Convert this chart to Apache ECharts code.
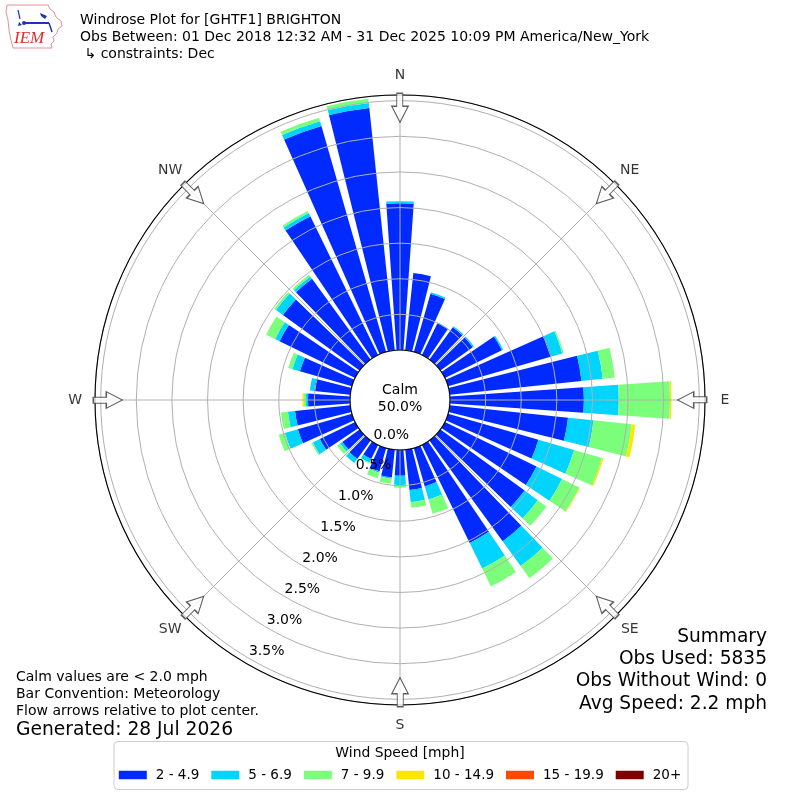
<!DOCTYPE html>
<html style="height: 100%">
<head>
  <meta charset="utf-8">
</head>
<body style="height: 100%; margin: 0; background: #fff">
  <div id="container" style="width: 800px; height: 800px"></div>

  <script type="text/javascript" src="https://fastly.jsdelivr.net/npm/echarts@6/dist/echarts.min.js"></script>
  <script type="text/javascript">
    // direction bins (degrees, meteorological convention)
    var directions = ['0', '10', '20', '30', '40', '50', '60', '70', '80', '90', '100', '110',
      '120', '130', '140', '150', '160', '170', '180', '190', '200', '210', '220', '230',
      '240', '250', '260', '270', '280', '290', '300', '310', '320', '330', '340', '350'];

    var speedBins = ['2 - 4.9', '5 - 6.9', '7 - 9.9', '10 - 14.9', '15 - 19.9', '20+'];

    // percent of observations per direction, one array per speed bin
    var speed2to5 = [2.06, 1.09, 0.85, 0.50, 0.56, 0.56, 0.89, 1.51, 1.86, 1.88, 1.67, 1.32,
      1.43, 1.46, 1.75, 1.53, 0.56, 0.57, 0.36, 0.39, 0.34, 0.22, 0.32, 0.30,
      0.55, 0.79, 0.78, 0.59, 0.51, 0.76, 1.18, 1.33, 1.40, 2.17, 3.30, 3.42];
    var speed5to7 = [0.03, 0.00, 0.02, 0.01, 0.02, 0.02, 0.02, 0.16, 0.30, 0.49, 0.36, 0.52,
      0.40, 0.23, 0.43, 0.40, 0.19, 0.17, 0.13, 0.02, 0.02, 0.06, 0.07, 0.04,
      0.11, 0.19, 0.10, 0.03, 0.06, 0.11, 0.07, 0.12, 0.04, 0.05, 0.07, 0.07];
    var speed7to10 = [0.00, 0.00, 0.00, 0.00, 0.00, 0.00, 0.00, 0.02, 0.17, 0.72, 0.54, 0.41,
      0.27, 0.15, 0.21, 0.28, 0.21, 0.08, 0.04, 0.07, 0.08, 0.01, 0.00, 0.05,
      0.02, 0.09, 0.10, 0.03, 0.00, 0.06, 0.14, 0.03, 0.03, 0.03, 0.05, 0.06];
    var speed10to15 = [0, 0, 0, 0, 0, 0, 0, 0, 0, 0.02, 0.05, 0.02,
      0.01, 0, 0, 0, 0, 0, 0, 0, 0, 0, 0, 0,
      0, 0, 0, 0.02, 0, 0, 0, 0, 0, 0, 0, 0];
    var speed15to20 = [0, 0, 0, 0, 0, 0, 0, 0, 0, 0, 0, 0,
      0, 0, 0, 0, 0, 0, 0, 0, 0, 0, 0, 0,
      0, 0, 0, 0, 0, 0, 0, 0, 0, 0, 0, 0];
    var speed20up = [0, 0, 0, 0, 0, 0, 0, 0, 0, 0, 0, 0,
      0, 0, 0, 0, 0, 0, 0, 0, 0, 0, 0, 0,
      0, 0, 0, 0, 0, 0, 0, 0, 0, 0, 0, 0];

    var compassNames = ['N', 'NE', 'E', 'SE', 'S', 'SW', 'W', 'NW'];
    var compassAngles = [0, 45, 90, 135, 180, 225, 270, 315];

    var calmPct = '50.0%';
    var headerLines = ['Windrose Plot for [GHTF1] BRIGHTON',
      'Obs Between: 01 Dec 2018 12:32 AM - 31 Dec 2025 10:09 PM America/New_York',
      ' \u21b3 constraints: Dec'];
    var noteLines = ['Calm values are < 2.0 mph', 'Bar Convention: Meteorology',
      'Flow arrows relative to plot center.'];
    var generated = 'Generated: 28 Jul 2026';
    var summaryLines = ['Summary', 'Obs Used: 5835', 'Obs Without Wind: 0', 'Avg Speed: 2.2 mph'];

    var binValues = [speed2to5, speed5to7, speed7to10, speed10to15, speed15to20, speed20up];
    var binColors = ['#002aff', '#00d4ff', '#7bff7b', '#ffe500', '#ff4900', '#800000'];

    var rMax = 3.58;
    var arrowPath = 'path://M5,0L11,0L11,13L16.5,13L8.25,29L0,13L5,13Z';

    var dom = document.getElementById('container');
    var myChart = echarts.init(dom, null, { renderer: 'canvas' });

    var series = speedBins.map(function (name, i) {
      return {
        name: name,
        type: 'bar',
        coordinateSystem: 'polar',
        polarIndex: 0,
        stack: 'speed',
        barCategoryGap: '20%',
        itemStyle: { color: binColors[i] },
        data: binValues[i],
        silent: true,
        z: 2
      };
    });

    // flow arrows
    series.push({
      type: 'scatter',
      coordinateSystem: 'polar',
      polarIndex: 1,
      symbol: arrowPath,
      symbolSize: [16.5, 29],
      itemStyle: { color: '#fff', borderColor: '#333', borderWidth: 1.2 },
      data: compassAngles.map(function (a) {
        return { value: [3.40, a], symbolRotate: -a };
      }),
      silent: true,
      clip: false,
      z: 8
    });

    // compass labels
    series.push({
      type: 'scatter',
      coordinateSystem: 'polar',
      polarIndex: 1,
      symbolSize: 1,
      itemStyle: { color: 'rgba(0,0,0,0)' },
      label: {
        show: true,
        position: 'inside',
        formatter: '{b}',
        color: '#000',
        fontSize: 14,
        fontFamily: 'DejaVu Sans'
      },
      data: compassNames.map(function (n, i) {
        return { name: n, value: [3.86, compassAngles[i]] };
      }),
      silent: true,
      clip: false,
      z: 8
    });

    var font = 'DejaVu Sans';
    var graphics = [
      // legend frame
      {
        type: 'rect', left: 113.5, top: 741, z: 0,
        shape: { width: 574, height: 48, r: 4 },
        style: { fill: '#fff', stroke: '#cccccc', lineWidth: 1 }
      },
      {
        type: 'text', x: 400, y: 753, z: 1,
        style: { text: 'Wind Speed [mph]', fontSize: 13.9, fontFamily: font, fill: '#000',
          textAlign: 'center', textVerticalAlign: 'middle' }
      },
      // header
      {
        type: 'text', x: 80, y: 11.5,
        style: { text: headerLines.join('\n'), fontSize: 14, lineHeight: 17, fontFamily: font,
          fill: '#000', textAlign: 'left', textVerticalAlign: 'top' }
      },
      // calm
      {
        type: 'text', x: 400, y: 398.5, z: 10,
        style: { text: 'Calm\n' + calmPct, fontSize: 14, lineHeight: 17, fontFamily: font,
          fill: '#000', textAlign: 'center', textVerticalAlign: 'middle' }
      },
      // notes
      {
        type: 'text', x: 16, y: 694.5,
        style: { text: noteLines.join('\n'), fontSize: 14, lineHeight: 17.3, fontFamily: font,
          fill: '#000', textAlign: 'left', textVerticalAlign: 'middle' }
      },
      {
        type: 'text', x: 16, y: 730,
        style: { text: generated, fontSize: 18.7, fontFamily: font, fill: '#000',
          textAlign: 'left', textVerticalAlign: 'middle' }
      },
      // summary
      {
        type: 'text', x: 767, y: 670.5,
        style: { text: summaryLines.join('\n'), fontSize: 18.6, lineHeight: 22.3, fontFamily: font,
          fill: '#000', textAlign: 'right', textVerticalAlign: 'middle' }
      },
      // IEM logo
      {
        type: 'group', x: 0, y: 0,
        children: [
          {
            type: 'polygon',
            shape: { points: [[7, 5], [48, 5], [50, 9], [54, 12], [56, 17], [61, 21], [62, 26], [58, 29],
              [57, 33], [53, 37], [54, 41], [51, 44], [52, 48], [13, 48], [11, 40], [9, 30], [8, 20], [6, 12]] },
            style: { fill: 'none', stroke: '#e89090', lineWidth: 1 }
          },
          { type: 'line', shape: { x1: 18, y1: 10, x2: 20, y2: 19 }, style: { stroke: '#2030c0', lineWidth: 1.2 } },
          { type: 'line', shape: { x1: 24, y1: 23, x2: 49, y2: 23 }, style: { stroke: '#2030c0', lineWidth: 2 } },
          { type: 'circle', shape: { cx: 24, cy: 23, r: 2 }, style: { fill: '#2030c0' } },
          { type: 'polygon', shape: { points: [[19, 22], [22, 25], [18, 26]] }, style: { fill: '#2030c0' } },
          { type: 'polygon', shape: { points: [[40, 13], [47, 16], [45, 19], [41, 16]] }, style: { fill: '#2030c0' } },
          { type: 'line', shape: { x1: 49, y1: 23, x2: 52, y2: 32 }, style: { stroke: '#2030c0', lineWidth: 1.5 } },
          {
            type: 'text', x: 14, y: 39,
            style: { text: 'IEM', fontSize: 17, fontStyle: 'italic', fontFamily: 'Liberation Serif',
              fill: '#e02a2a', textAlign: 'left', textVerticalAlign: 'middle' }
          }
        ]
      }
    ];

    var option = {
      backgroundColor: '#fff',
      animation: false,
      textStyle: { fontFamily: font },
      polar: [
        { center: ['50%', '50%'], radius: [50, 305] },
        { center: ['50%', '50%'], radius: [50, 305] },
        { center: ['50%', '50%'], radius: [34.6, 34.6 + 3.5 * (255 / rMax)] }
      ],
      angleAxis: [
        {
          polarIndex: 0, type: 'category', data: directions, startAngle: 95, clockwise: true,
          boundaryGap: true, axisLine: { show: false }, axisTick: { show: false },
          axisLabel: { show: false }, splitLine: { show: false }
        },
        {
          polarIndex: 1, type: 'value', min: 0, max: 360, interval: 45, startAngle: 90, clockwise: true,
          axisLine: { show: true, lineStyle: { color: '#000', width: 1.1 } },
          axisTick: { show: false }, axisLabel: { show: false },
          splitLine: { show: true, lineStyle: { color: '#b0b0b0', width: 1 } },
          z: 5
        },
        {
          polarIndex: 2, type: 'value', min: 0, max: 360, startAngle: 240, clockwise: true, show: false
        }
      ],
      radiusAxis: [
        { polarIndex: 0, type: 'value', min: 0, max: rMax, show: false },
        {
          polarIndex: 1, type: 'value', min: 0, max: rMax, interval: 0.5,
          axisLine: { show: false }, axisTick: { show: false }, axisLabel: { show: false },
          splitLine: { show: true, lineStyle: { color: '#b0b0b0', width: 1 } },
          z: 5
        },
        {
          polarIndex: 2, type: 'value', min: 0, max: 3.5, interval: 0.5,
          axisLine: { show: false }, axisTick: { show: false }, splitLine: { show: false },
          axisLabel: {
            show: true, margin: 10, fontSize: 14, color: '#000', fontFamily: font,
            align: 'center', verticalAlign: 'middle',
            formatter: function (v) { return v.toFixed(1) + '%'; }
          },
          z: 9
        }
      ],
      legend: {
        data: speedBins,
        left: 'center',
        top: 768,
        orient: 'horizontal',
        icon: 'rect',
        itemWidth: 28,
        itemHeight: 8.5,
        itemGap: 12,
        padding: 0,
        selectedMode: false,
        textStyle: { fontSize: 13.5, color: '#000', fontFamily: font, padding: [0, 0, 0, 4] },
        z: 4
      },
      graphic: graphics,
      series: series
    };

    myChart.setOption(option);
    window.addEventListener('resize', myChart.resize);
  </script>
</body>
</html>
